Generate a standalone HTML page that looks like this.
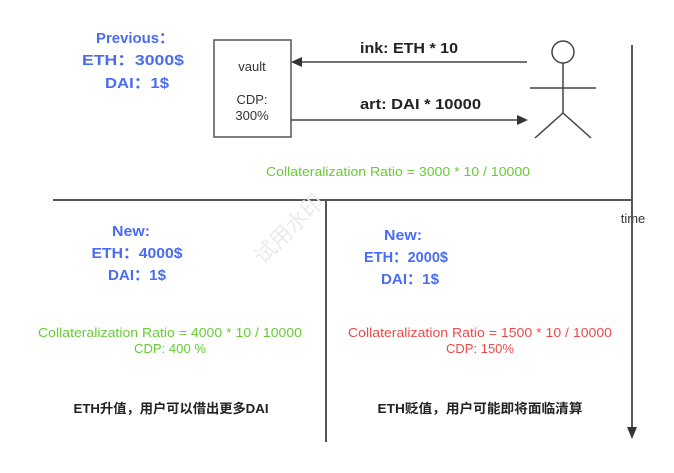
<!DOCTYPE html>
<html><head><meta charset="utf-8"><style>
body{margin:0;width:674px;height:468px;background:#fff;overflow:hidden}
text{font-family:"Liberation Sans","Noto Sans CJK SC",sans-serif}
</style></head><body>
<svg width="674" height="468" viewBox="0 0 674 468">
<g fill="#4a6cf0" font-weight="bold" font-size="15" text-anchor="middle">
<text x="135" y="43" textLength="78" lengthAdjust="spacingAndGlyphs">Previous：</text>
<text x="133" y="65" textLength="102" lengthAdjust="spacingAndGlyphs">ETH：3000$</text>
<text x="137" y="88" textLength="64" lengthAdjust="spacingAndGlyphs">DAI：1$</text>
<text x="131" y="236" textLength="38" lengthAdjust="spacingAndGlyphs">New:</text>
<text x="137" y="258" textLength="91" lengthAdjust="spacingAndGlyphs">ETH：4000$</text>
<text x="137" y="280" textLength="58" lengthAdjust="spacingAndGlyphs">DAI：1$</text>
<text x="403" y="240" textLength="38" lengthAdjust="spacingAndGlyphs">New:</text>
<text x="406" y="262" textLength="84" lengthAdjust="spacingAndGlyphs">ETH：2000$</text>
<text x="410" y="284" textLength="58" lengthAdjust="spacingAndGlyphs">DAI：1$</text>
</g>
<rect x="214" y="40" width="77" height="97" fill="#fff" stroke="#555" stroke-width="1.5"/>
<g font-size="13" fill="#333" text-anchor="middle">
<text x="252" y="71">vault</text>
<text x="252" y="104">CDP:</text>
<text x="252" y="120">300%</text>
<text x="633" y="223">time</text>
</g>
<g stroke="#444" stroke-width="1.5" fill="none">
<line x1="527" y1="62" x2="300" y2="62"/>
<line x1="291" y1="120" x2="518" y2="120"/>
<circle cx="563" cy="52" r="11"/>
<line x1="563" y1="63" x2="563" y2="113"/>
<line x1="530" y1="88" x2="596" y2="88"/>
<line x1="563" y1="113" x2="535" y2="138"/>
<line x1="563" y1="113" x2="591" y2="138"/>
</g>
<polygon points="291,62 302,57 302,67" fill="#333"/>
<polygon points="528,120 517,115 517,125" fill="#333"/>
<g font-size="15" font-weight="bold" fill="#222">
<text x="360" y="53" textLength="98" lengthAdjust="spacingAndGlyphs">ink: ETH * 10</text>
<text x="360" y="109" textLength="121" lengthAdjust="spacingAndGlyphs">art: DAI * 10000</text>
</g>
<text x="398" y="176" font-size="13" fill="#66cc33" text-anchor="middle" textLength="264" lengthAdjust="spacingAndGlyphs">Collateralization Ratio = 3000 * 10 / 10000</text>
<g stroke="#555" stroke-width="2">
<line x1="53" y1="200" x2="632" y2="200"/>
<line x1="632" y1="45" x2="632" y2="428"/>
<line x1="326" y1="200" x2="326" y2="442"/>
</g>
<polygon points="632,439 627,427 637,427" fill="#333"/>
<text x="290" y="236" font-size="22" fill="#ebebeb" text-anchor="middle" transform="rotate(-45 290 230)" font-family="Noto Sans CJK SC,sans-serif">试用水印</text>
<g font-size="13" text-anchor="middle">
<text x="170" y="337" fill="#66cc33" textLength="264" lengthAdjust="spacingAndGlyphs">Collateralization Ratio = 4000 * 10 / 10000</text>
<text x="170" y="353" fill="#66cc33" textLength="72" lengthAdjust="spacingAndGlyphs">CDP: 400 %</text>
<text x="480" y="337" fill="#f04848" textLength="264" lengthAdjust="spacingAndGlyphs">Collateralization Ratio = 1500 * 10 / 10000</text>
<text x="480" y="353" fill="#f04848" textLength="68" lengthAdjust="spacingAndGlyphs">CDP: 150%</text>
</g>
<g font-size="13" font-weight="bold" fill="#222" text-anchor="middle">
<text x="171" y="413" textLength="195" lengthAdjust="spacingAndGlyphs">ETH升值，用户可以借出更多DAI</text>
<text x="480" y="413" textLength="205" lengthAdjust="spacingAndGlyphs">ETH贬值，用户可能即将面临清算</text>
</g>
</svg>
</body></html>
